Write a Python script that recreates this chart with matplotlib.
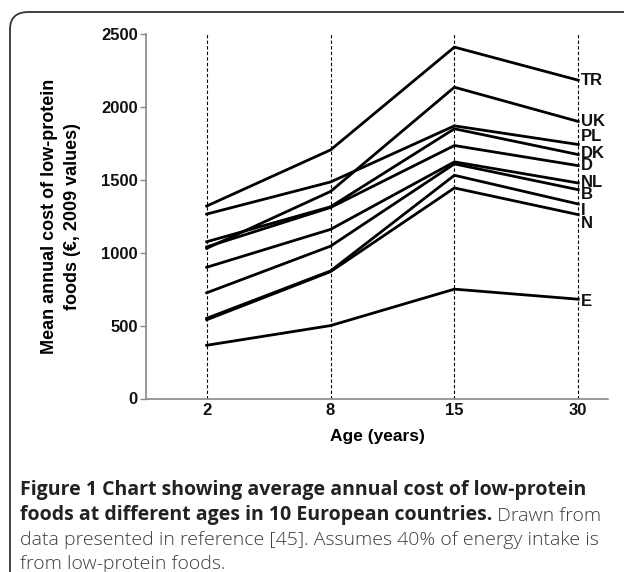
import matplotlib
matplotlib.use("Agg")
import matplotlib.pyplot as plt
from matplotlib.patches import FancyBboxPatch

# ages (x categories) and cost per country (EUR, 2009 values)
ages = ["2", "8", "15", "30"]
countries = ["TR", "UK", "PL", "DK", "D", "NL", "B", "I", "N", "E"]
TR = [1320, 1705, 2410, 2183]
UK = [1030, 1420, 2135, 1900]
PL = [1265, 1485, 1870, 1742]
DK = [1075, 1315, 1850, 1673]
D = [1040, 1310, 1735, 1597]
NL = [900, 1160, 1623, 1478]
B = [725, 1045, 1609, 1432]
I = [550, 875, 1531, 1334]
N = [540, 870, 1444, 1261]
E = [365, 500, 750, 681]
series = [TR, UK, PL, DK, D, NL, B, I, N, E]

# vertical nudge of end labels (pixels) so they don't overlap
label_nudge = [0, 0, 8, 1, 0, 1, -5, -6, -9, -2]

W, H = 624, 572
fig = plt.figure(figsize=(W / 100, H / 100), dpi=100)

# rounded frame around the figure (right/bottom run off the image)
frame = FancyBboxPatch((10 / W, 1 - 652 / H), 700 / W, 640 / H,
                       boxstyle="round,pad=0,rounding_size=0.03",
                       transform=fig.transFigure, fill=False,
                       edgecolor="#333333", linewidth=1.3)
fig.add_artist(frame)

ax = fig.add_axes([146 / W, 1 - 398.5 / H, (608 - 146) / W, (398.5 - 34) / H])

bold = dict(family="Liberation Sans", weight="bold")

x = list(range(len(ages)))
for xi in x:
    ax.axvline(xi, color="black", lw=0.8, ls=(0, (3, 2)), zorder=1)

for name, vals, nudge in zip(countries, series, label_nudge):
    ax.plot(x, vals, color="black", lw=2.0, solid_joinstyle="miter", zorder=3)
    ax.annotate(name, xy=(x[-1], vals[-1]), xytext=(2, nudge * 0.72),
                textcoords="offset points", ha="left", va="center",
                fontsize=12, color="#111111", **bold)

ax.set_xlim(-0.49, 3.24)
ax.set_ylim(0, 2500)
ax.set_xticks(x)
ax.set_xticklabels(ages, fontsize=12, color="#111111", **bold)
ax.set_yticks([0, 500, 1000, 1500, 2000, 2500])
ax.set_yticklabels(["0", "500", "1000", "1500", "2000", "2500"],
                   fontsize=12, color="#111111", **bold)
ax.tick_params(axis="x", length=0, pad=3)
ax.tick_params(axis="y", length=4, width=1, color="#888888", pad=2)

for s in ["top", "right"]:
    ax.spines[s].set_visible(False)
for s in ["left", "bottom"]:
    ax.spines[s].set_color("#888888")
    ax.spines[s].set_linewidth(1.2)

ax.set_xlabel("Age (years)", fontsize=12.5, labelpad=8, **bold)
ax.set_ylabel("Mean annual cost of low-protein\nfoods (\u20ac, 2009 values)",
              fontsize=13, labelpad=14, linespacing=1.5, **bold)

# caption
cap = dict(family="Open Sans", fontsize=14)
x0 = 20 / W
fig.text(x0, 1 - 495 / H,
         "Figure 1 Chart showing average annual cost of low-protein",
         weight="bold", color="#222222", va="baseline", **cap)
t2 = fig.text(x0, 1 - 520 / H,
              "foods at different ages in 10 European countries.",
              weight="bold", color="#222222", va="baseline", **cap)
ax.annotate(" Drawn from", xy=(1, 0), xycoords=t2, va="bottom", ha="left",
            color="#3c3c3c", weight="light", annotation_clip=False, **cap)
fig.text(x0, 1 - 545 / H,
         "data presented in reference [45]. Assumes 40% of energy intake is",
         color="#3c3c3c", weight="light", va="baseline", **cap)
fig.text(x0, 1 - 569 / H, "from low-protein foods.",
         color="#3c3c3c", weight="light", va="baseline", **cap)

fig.savefig("out.png", dpi=100)
